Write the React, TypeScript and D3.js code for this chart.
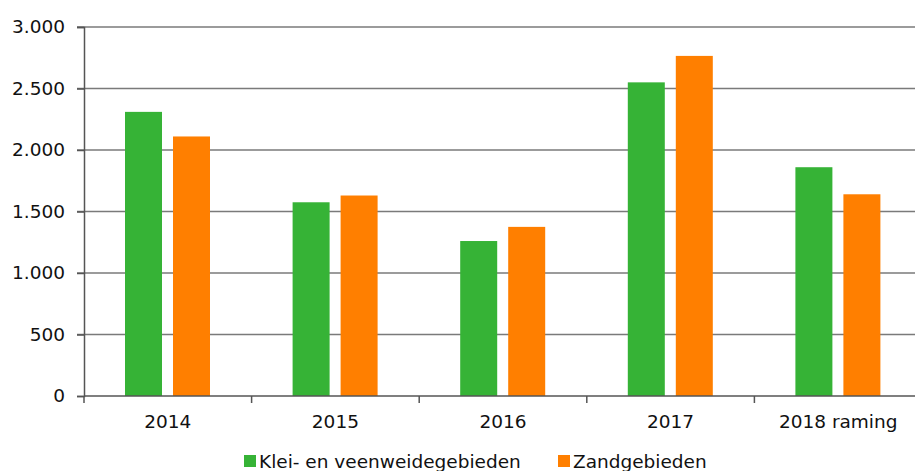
import React, { useRef, useEffect } from "react";
import * as d3 from "d3";

const categories = ["2014", "2015", "2016", "2017", "2018 raming"];
const klei = [2310, 1575, 1260, 2550, 1860];
const zand = [2110, 1630, 1375, 2765, 1640];
const yTicks = [0, 500, 1000, 1500, 2000, 2500, 3000];
const seriesNames = ["Klei- en veenweidegebieden", "Zandgebieden"];
const colors = ["#36b336", "#ff7f00"];

function App() {
  const svgRef = useRef<SVGSVGElement>(null);

  useEffect(() => {
    const svg = d3.select(svgRef.current);
    svg.selectAll("*").remove();
    const width = 915;
    const font = "DejaVu Sans, Verdana, sans-serif";
    const fs = 18.5;

    const x = d3.scaleBand().domain(categories).range([84, 922]);
    const y = d3.scaleLinear().domain([0, 3000]).range([396, 27]);
    const fmt = (v: number) => d3.format(",")(v).replace(/,/g, ".");

    // gridlines
    svg.append("g")
      .selectAll("line")
      .data(yTicks.filter((t) => t > 0))
      .enter()
      .append("line")
      .attr("x1", 77)
      .attr("x2", width)
      .attr("y1", (d) => y(d))
      .attr("y2", (d) => y(d))
      .attr("stroke", "#7a7a7a")
      .attr("stroke-width", 1.5);

    const series = [klei, zand];
    const bw = 37;
    const offsets = [41, 89];
    series.forEach((vals, si) => {
      svg.append("g")
        .selectAll("rect")
        .data(vals)
        .enter()
        .append("rect")
        .attr("x", (_, i) => (x(categories[i]) as number) + offsets[si])
        .attr("y", (d) => y(d))
        .attr("width", bw)
        .attr("height", (d) => y(0) - y(d))
        .attr("fill", colors[si]);
    });

    // y axis
    const yAxis = svg.append("g").attr("transform", "translate(84,0)")
      .call(d3.axisLeft(y).tickValues(yTicks).tickFormat((d) => fmt(d as number)).tickSize(7).tickPadding(12));
    yAxis.select(".domain").attr("stroke", "#555").attr("stroke-width", 1.5);
    yAxis.selectAll(".tick line").attr("stroke", "#555").attr("stroke-width", 1.5);
    yAxis.selectAll("text").attr("font-family", font).attr("font-size", fs).attr("fill", "#111");

    // x axis
    const xg = svg.append("g").attr("transform", "translate(0,396)");
    xg.append("line").attr("x1", 84).attr("x2", width).attr("y1", 0).attr("y2", 0)
      .attr("stroke", "#555").attr("stroke-width", 1.5);
    xg.selectAll("line.tk")
      .data(categories)
      .enter()
      .append("line")
      .attr("class", "tk")
      .attr("x1", (d) => x(d) as number)
      .attr("x2", (d) => x(d) as number)
      .attr("y1", 0)
      .attr("y2", 7)
      .attr("stroke", "#555")
      .attr("stroke-width", 1.5);
    xg.selectAll("text")
      .data(categories)
      .enter()
      .append("text")
      .attr("x", (d) => (x(d) as number) + x.bandwidth() / 2)
      .attr("y", 32)
      .attr("text-anchor", "middle")
      .attr("font-family", font)
      .attr("font-size", fs)
      .attr("fill", "#111")
      .text((d) => d);

    // legend
    const legendX = [244, 558];
    seriesNames.forEach((name, i) => {
      svg.append("rect").attr("x", legendX[i]).attr("y", 455).attr("width", 12).attr("height", 12).attr("fill", colors[i]);
      svg.append("text").attr("x", legendX[i] + 15).attr("y", 468)
        .attr("font-family", font).attr("font-size", fs).attr("fill", "#111").text(name);
    });
  }, []);

  return <svg ref={svgRef} width={915} height={471} style={{ position: "absolute", left: 0, top: 0 }}></svg>;
}

export default App;
